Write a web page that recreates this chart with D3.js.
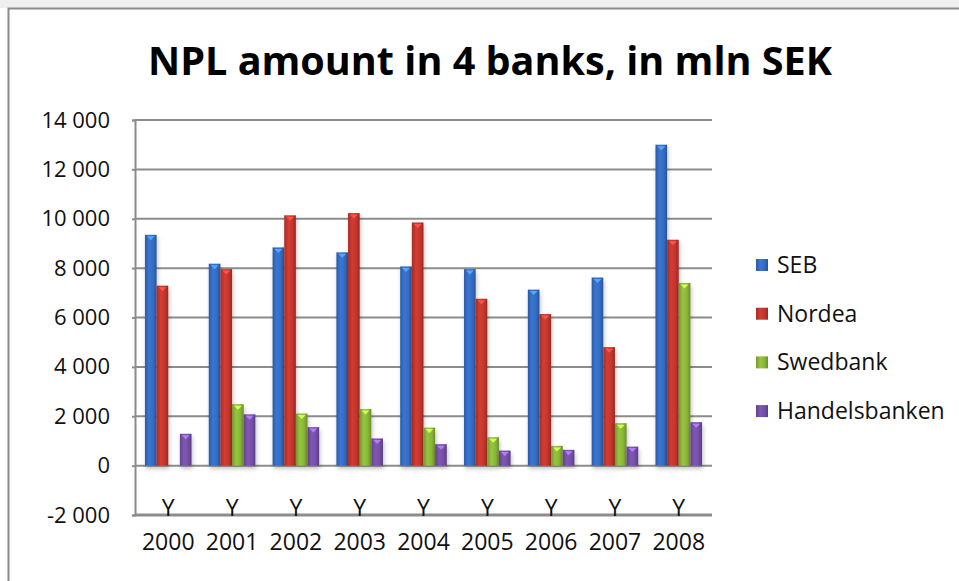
<!DOCTYPE html>
<meta charset="utf-8">
<title>NPL amount in 4 banks, in mln SEK</title>
<style>
  body { margin: 0; background: #fff; }
  text { font-family: "Open Sans", "DejaVu Sans", sans-serif; fill: #111; }
</style>
<div id="chart"></div>
<script src="https://d3js.org/d3.v7.min.js"></script>
<script>
// chart data (mln SEK)
var years = ["2000", "2001", "2002", "2003", "2004", "2005", "2006", "2007", "2008"];
var banks = ["SEB", "Nordea", "Swedbank", "Handelsbanken"];
var seb = [9350, 8180, 8840, 8640, 8070, 7960, 7130, 7620, 13000];
var nordea = [7290, 7960, 10140, 10230, 9850, 6760, 6140, 4800, 9150];
var swedbank = [0, 2490, 2110, 2290, 1540, 1150, 800, 1720, 7400];
var handelsbanken = [1290, 2080, 1560, 1100, 870, 610, 640, 770, 1760];
var yTicks = [-2000, 0, 2000, 4000, 6000, 8000, 10000, 12000, 14000];

var seriesValues = [seb, nordea, swedbank, handelsbanken];
var colors = ["#356cc2", "#c3362e", "#8ab538", "#7550a6"];

var W = 959, H = 581;
var svg = d3.select("#chart").append("svg")
    .attr("width", W)
    .attr("height", H);

// outer chart frame
svg.append("rect").attr("x", 0).attr("y", 0).attr("width", W).attr("height", 8).attr("fill", "#efefef");
svg.append("rect")
    .attr("x", 8.5).attr("y", 8.5)
    .attr("width", W + 10).attr("height", H + 10)
    .attr("fill", "#fff")
    .attr("stroke", "#8a8a8a")
    .attr("stroke-width", 2);

// title
svg.append("text")
    .attr("x", 490).attr("y", 75)
    .attr("text-anchor", "middle")
    .attr("textLength", 684)
    .attr("lengthAdjust", "spacingAndGlyphs")
    .style("font-size", "39px")
    .style("font-weight", "bold")
    .style("fill", "#000")
    .text("NPL amount in 4 banks, in mln SEK");

var defs = svg.append("defs");
banks.forEach(function(b, i) {
  var c = d3.color(colors[i]);
  var g = defs.append("linearGradient").attr("id", "grad" + i)
      .attr("x1", "0%").attr("x2", "100%").attr("y1", "0%").attr("y2", "0%");
  g.append("stop").attr("offset", "0%").attr("stop-color", c.darker(0.5));
  g.append("stop").attr("offset", "35%").attr("stop-color", c.brighter(0.25));
  g.append("stop").attr("offset", "70%").attr("stop-color", c);
  g.append("stop").attr("offset", "100%").attr("stop-color", c.darker(0.7));
});
var shadow = defs.append("filter").attr("id", "shadow")
    .attr("x", "-50%").attr("y", "-10%").attr("width", "200%").attr("height", "130%");
shadow.append("feDropShadow")
    .attr("dx", 1).attr("dy", 3).attr("stdDeviation", 2)
    .attr("flood-color", "#000").attr("flood-opacity", 0.25);

// plot area
var plot = {left: 135, right: 712, top: 120, bottom: 515};
var y = d3.scaleLinear().domain([-2000, 14000]).range([plot.bottom, plot.top]);
var x0 = d3.scaleBand().domain(years).range([plot.left, plot.right])
    .paddingInner(0.27).paddingOuter(0.156);
var x1 = d3.scaleBand().domain(banks).range([0, x0.bandwidth()]);

// gridlines
svg.append("g")
  .selectAll("line")
  .data(yTicks.filter(function(t) { return t > -2000; }))
  .enter().append("line")
    .attr("x1", plot.left).attr("x2", plot.right)
    .attr("y1", function(d) { return y(d); })
    .attr("y2", function(d) { return y(d); })
    .attr("stroke", "#8c8c8c")
    .attr("stroke-width", 2);

// y axis
var yAxis = svg.append("g")
    .attr("transform", "translate(" + plot.left + ",0)")
    .call(d3.axisLeft(y).tickValues(yTicks).tickSize(3).tickPadding(22)
      .tickFormat(function(d) { return d3.format(",")(d).replace(/,/g, " ").replace("\u2212", "-"); }));
yAxis.select(".domain").attr("stroke", "#8c8c8c").attr("stroke-width", 2);
yAxis.selectAll(".tick line").attr("stroke", "#8c8c8c").attr("stroke-width", 2);
yAxis.selectAll(".tick text")
    .style("font-size", "22px")
    .attr("fill", "#111");

// bars
var groups = svg.append("g")
  .selectAll("g")
  .data(years)
  .enter().append("g")
    .attr("transform", function(d) { return "translate(" + x0(d) + ",0)"; });

var bars = groups.selectAll("g.bar")
  .data(function(d, yi) {
    return banks.map(function(b, bi) { return {bank: b, bi: bi, value: seriesValues[bi][yi]}; })
      .filter(function(e) { return e.value > 0; });
  })
  .enter().append("g").attr("class", "bar");

bars.append("rect")
    .attr("x", function(d) { return x1(d.bank); })
    .attr("y", function(d) { return y(d.value); })
    .attr("width", x1.bandwidth())
    .attr("height", function(d) { return y(0) - y(d.value); })
    .attr("fill", function(d) { return "url(#grad" + d.bi + ")"; })
    .attr("filter", "url(#shadow)");

// small bevel marker on top of each bar
bars.append("path")
    .attr("d", function(d) {
      var cx = x1(d.bank) + x1.bandwidth() / 2, ty = y(d.value);
      return "M" + (cx - 4) + "," + (ty + 1.5) + "L" + (cx + 4) + "," + (ty + 1.5) + "L" + cx + "," + (ty + 5.5) + "Z";
    })
    .attr("fill", function(d) { return d3.color(colors[d.bi]).brighter(1.2); });

// x axis (at the bottom of the plot)
svg.append("line")
    .attr("x1", plot.left).attr("x2", plot.right)
    .attr("y1", plot.bottom).attr("y2", plot.bottom)
    .attr("stroke", "#8c8c8c").attr("stroke-width", 3);

var xAxis = svg.append("g")
  .selectAll("g")
  .data(years)
  .enter().append("g")
    .attr("transform", function(d) { return "translate(" + (x0(d) + x0.bandwidth() / 2) + ",0)"; });
xAxis.append("text")
    .attr("y", 516)
    .attr("text-anchor", "middle")
    .style("font-size", "23px")
    .text("Y");
xAxis.append("text")
    .attr("y", 550)
    .attr("text-anchor", "middle")
    .style("font-size", "23px")
    .text(function(d) { return d; });

// legend
var legend = svg.append("g")
  .selectAll("g")
  .data(banks)
  .enter().append("g")
    .attr("transform", function(d, i) { return "translate(756," + (265 + i * 48.7) + ")"; });
legend.append("rect")
    .attr("x", 0).attr("y", -6)
    .attr("width", 12).attr("height", 12)
    .attr("fill", function(d, i) { return "url(#grad" + i + ")"; });
legend.append("text")
    .attr("x", 21).attr("y", 8)
    .style("font-size", "23px")
    .text(function(d) { return d; });
</script>
